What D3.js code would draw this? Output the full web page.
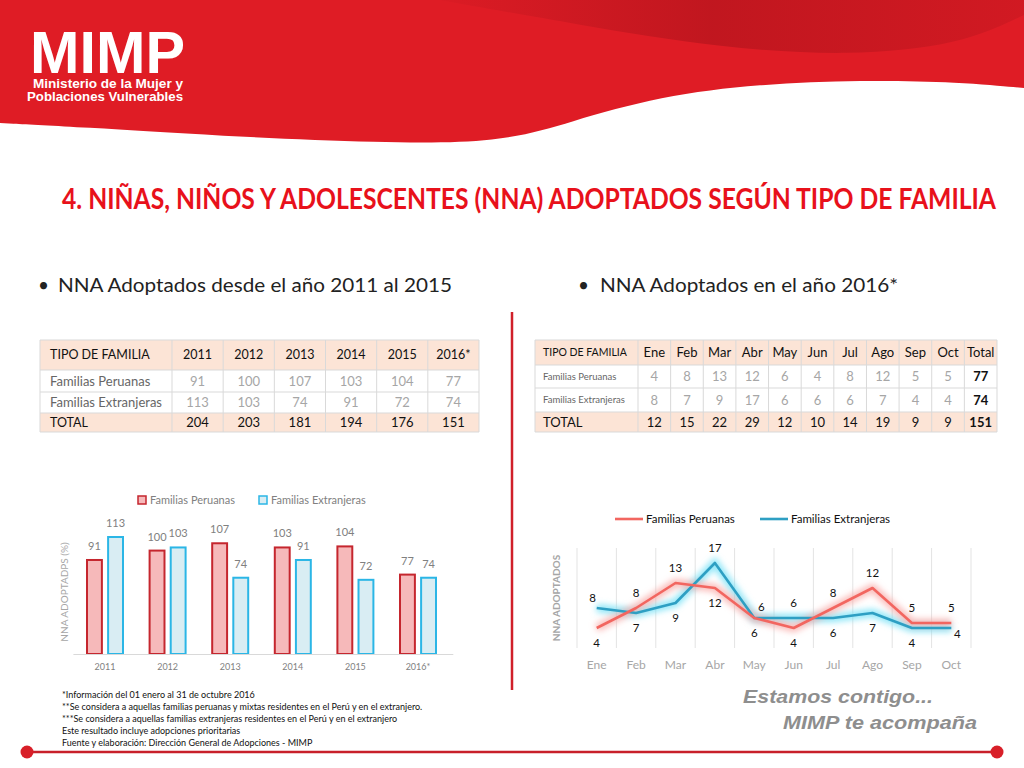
<!DOCTYPE html>
<html>
<head>
<meta charset="utf-8">
<script src="https://cdn.jsdelivr.net/npm/d3@7"></script>
<style>
  body { margin: 0; background: #fff; }
  svg { display: block; font-family: Lato, "Open Sans", sans-serif; }
</style>
</head>
<body>
<svg id="slide" width="1024" height="768"></svg>
<script>
const years = ['2011', '2012', '2013', '2014', '2015', '2016*'];
const peruanasAnual = [91, 100, 107, 103, 104, 77];
const extranjerasAnual = [113, 103, 74, 91, 72, 74];
const totalAnual = [204, 203, 181, 194, 176, 151];

const meses = ['Ene', 'Feb', 'Mar', 'Abr', 'May', 'Jun', 'Jul', 'Ago', 'Sep', 'Oct'];
const peruanasMes = [4, 8, 13, 12, 6, 4, 8, 12, 5, 5];
const extranjerasMes = [8, 7, 9, 17, 6, 6, 6, 7, 4, 4];
const totalMes = [12, 15, 22, 29, 12, 10, 14, 19, 9, 9];
const totalesMes = [77, 74, 151];

// donde va cada etiqueta de la linea (como en excel)
const posPer = ['below', 'above', 'above', 'below', 'below', 'below', 'above', 'above', 'above', 'above'];
const posExt = ['aboveLeft', 'below', 'below', 'above', 'aboveRight', 'above', 'below', 'below', 'below', 'right'];

const series = ['Familias Peruanas', 'Familias Extranjeras'];

const svg = d3.select('#slide');
const defs = svg.append('defs');

// ---------- cabecera roja ----------
const bottomEdge = [[1024, 88], [960, 82], [860, 80], [760, 84], [660, 96], [570, 122], [500, 143], [380, 143], [220, 136], [80, 127], [0, 123]];
const edgePath = d3.line().curve(d3.curveBasis)(bottomEdge);
svg.append('path')
  .attr('d', 'M0,0L1024,0L' + edgePath.slice(1) + 'Z')
  .attr('fill', '#df1c25');

const grad = defs.append('linearGradient').attr('id', 'dark').attr('x1', 0).attr('x2', 1);
grad.append('stop').attr('offset', '0%').attr('stop-color', '#a8121a').attr('stop-opacity', 0);
grad.append('stop').attr('offset', '50%').attr('stop-color', '#a8121a').attr('stop-opacity', 0.55);
grad.append('stop').attr('offset', '100%').attr('stop-color', '#a8121a').attr('stop-opacity', 0.25);
const band = [[1024, 15], [960, 45], [850, 56], [720, 48], [580, 25], [440, 0]];
svg.append('path')
  .attr('d', 'M400,0L1024,0L' + d3.line().curve(d3.curveBasis)(band).slice(1) + 'Z')
  .attr('fill', 'url(#dark)');

const logo = svg.append('g').attr('fill', '#fff')
  .style('font-family', '"Liberation Sans Narrow", "Liberation Sans", sans-serif')
  .style('font-weight', 'bold');
logo.append('text').attr('x', 30).attr('y', 73).attr('font-size', 60)
  .attr('textLength', 155).attr('lengthAdjust', 'spacingAndGlyphs').text('MIMP');
logo.append('text').attr('x', 33).attr('y', 88).attr('font-size', 13.5)
  .attr('textLength', 150).attr('lengthAdjust', 'spacingAndGlyphs').text('Ministerio de la Mujer y');
logo.append('text').attr('x', 27).attr('y', 101).attr('font-size', 13.5)
  .attr('textLength', 156).attr('lengthAdjust', 'spacingAndGlyphs').text('Poblaciones Vulnerables');

// ---------- titulo ----------
svg.append('text').attr('transform', 'translate(62,209) scale(1,1.12)')
  .attr('font-size', 25).attr('font-weight', 'bold').attr('fill', '#e8111b')
  .attr('textLength', 934).attr('lengthAdjust', 'spacingAndGlyphs')
  .text('4. NIÑAS, NIÑOS Y ADOLESCENTES (NNA) ADOPTADOS SEGÚN TIPO DE FAMILIA');

function bullet(x, tx, txt, len) {
  svg.append('text').attr('x', x).attr('y', 292).attr('font-size', 19).attr('fill', '#222').text('•');
  svg.append('text').attr('x', tx).attr('y', 292).attr('font-size', 19.5).attr('fill', '#222')
    .attr('textLength', len).attr('lengthAdjust', 'spacingAndGlyphs').text(txt);
}
bullet(38, 58, 'NNA Adoptados desde el año 2011 al 2015', 394);
bullet(578, 600, 'NNA Adoptados en el año 2016*', 298);

// separador vertical
svg.append('line').attr('x1', 512).attr('x2', 512).attr('y1', 312).attr('y2', 690)
  .attr('stroke', '#d0202a').attr('stroke-width', 2.5);

// ---------- tablas ----------
const peach = '#fce4d6';
function table(opt) {
  const g = svg.append('g');
  const xc = d3.scaleBand().domain(opt.cols).range([opt.x1, opt.x2]);
  const rowsY = opt.rows;
  [[0, peach], [1, '#fff'], [2, '#fff'], [3, peach]].forEach(([i, c]) => {
    g.append('rect').attr('x', opt.x0).attr('y', rowsY[i]).attr('width', opt.x2 - opt.x0)
      .attr('height', rowsY[i + 1] - rowsY[i]).attr('fill', c);
  });
  g.selectAll('.h').data(rowsY).join('line')
    .attr('x1', opt.x0).attr('x2', opt.x2).attr('y1', d => d).attr('y2', d => d)
    .attr('stroke', '#d9d9d9').attr('stroke-width', 1);
  g.selectAll('.v').data([opt.x0, ...opt.cols.map(c => xc(c)), opt.x2]).join('line')
    .attr('x1', d => d).attr('x2', d => d).attr('y1', rowsY[0]).attr('y2', rowsY[4])
    .attr('stroke', '#d9d9d9').attr('stroke-width', 1);
  const mid = i => (rowsY[i] + rowsY[i + 1]) / 2;
  g.append('text').attr('x', opt.x0 + opt.pad).attr('y', mid(0)).attr('dy', '0.35em')
    .attr('font-size', opt.headLabelSize).attr('fill', '#111').text('TIPO DE FAMILIA');
  g.selectAll('.ch').data(opt.cols).join('text')
    .attr('x', d => xc(d) + xc.bandwidth() / 2).attr('y', mid(0)).attr('dy', '0.35em')
    .attr('text-anchor', 'middle').attr('font-size', opt.headSize).attr('fill', '#111').text(d => d);
  opt.data.forEach((vals, r) => {
    const row = r + 1;
    const isTotal = row === 3;
    g.append('text').attr('x', opt.x0 + opt.pad).attr('y', mid(row)).attr('dy', '0.35em')
      .attr('font-size', isTotal ? opt.totalSize : opt.labelSize)
      .attr('fill', isTotal ? '#111' : '#666').text(opt.labels[r]);
    g.selectAll('.c' + r).data(vals).join('text')
      .attr('x', (d, i) => xc(opt.cols[i]) + xc.bandwidth() / 2).attr('y', mid(row)).attr('dy', '0.35em')
      .attr('text-anchor', 'middle').attr('font-size', opt.valSize)
      .attr('font-weight', (d, i) => (opt.boldLast && i === vals.length - 1) ? 'bold' : 'normal')
      .attr('fill', (d, i) => (isTotal || (opt.boldLast && i === vals.length - 1)) ? '#111' : '#a6a6a6')
      .text(d => d);
  });
}

table({
  x0: 40, x1: 172, x2: 479, rows: [340, 370, 392, 413, 432],
  cols: years, pad: 10, headLabelSize: 12.5, headSize: 12.5, labelSize: 13, totalSize: 12.5, valSize: 13,
  labels: ['Familias Peruanas', 'Familias Extranjeras', 'TOTAL'],
  data: [peruanasAnual, extranjerasAnual, totalAnual], boldLast: false
});

table({
  x0: 535, x1: 638, x2: 997, rows: [340, 365, 388, 412, 432],
  cols: [...meses, 'Total'], pad: 8, headLabelSize: 10.5, headSize: 13, labelSize: 9.5, totalSize: 13, valSize: 13,
  labels: ['Familias Peruanas', 'Familias Extranjeras', 'TOTAL'],
  data: [[...peruanasMes, totalesMes[0]], [...extranjerasMes, totalesMes[1]], [...totalMes, totalesMes[2]]],
  boldLast: true
});

// ---------- barras anuales ----------
const barCol = {
  'Familias Peruanas': { fill: '#f6b9ba', stroke: '#c5262e' },
  'Familias Extranjeras': { fill: '#d9edf3', stroke: '#2bb6e6' }
};
const x0 = d3.scaleBand().domain(years).range([73.7, 449.3]);
const x1 = d3.scaleBand().domain(series).range([x0.bandwidth() / 2 - 19, x0.bandwidth() / 2 + 19]).paddingInner(0.2);
const yb = d3.scaleLinear().domain([0, 120]).range([654, 528.7]);

const barData = years.map((yr, i) => ({ yr, vals: [peruanasAnual[i], extranjerasAnual[i]] }));
const bars = svg.append('g');
const grp = bars.selectAll('g').data(barData).join('g').attr('transform', d => `translate(${x0(d.yr)},0)`);
grp.selectAll('rect').data(d => series.map((s, k) => ({ s, v: d.vals[k] }))).join('rect')
  .attr('x', d => x1(d.s) + 1).attr('width', x1.bandwidth() - 2)
  .attr('y', d => yb(d.v) + 1).attr('height', d => yb(0) - yb(d.v) - 1)
  .attr('fill', d => barCol[d.s].fill).attr('stroke', d => barCol[d.s].stroke).attr('stroke-width', 2);
grp.selectAll('text').data(d => series.map((s, k) => ({ s, v: d.vals[k] }))).join('text')
  .attr('x', d => x1(d.s) + x1.bandwidth() / 2).attr('y', d => yb(d.v) - 9)
  .attr('text-anchor', 'middle').attr('font-size', 11).attr('fill', '#808080').text(d => d.v);

const xAxisB = svg.append('g').attr('transform', `translate(0,${yb(0)})`)
  .call(d3.axisBottom(x0).tickSize(0).tickPadding(10));
xAxisB.select('.domain').attr('stroke', '#d9d9d9').attr('d', 'M-0.3,0.5H379.6').attr('transform', 'translate(73.7,0)');
xAxisB.selectAll('text').attr('font-size', 9).attr('fill', '#7f7f7f').style('font-family', 'Lato, sans-serif');

svg.append('text').attr('transform', 'translate(68,592) rotate(-90)')
  .attr('text-anchor', 'middle').attr('font-size', 10).attr('fill', '#a6a6a6').text('NNA ADOPTADPS (%)');

const legB = svg.append('g').selectAll('g').data(series).join('g')
  .attr('transform', (d, i) => `translate(${[138, 259][i]},500)`);
legB.append('rect').attr('x', 0).attr('y', -4).attr('width', 8).attr('height', 8)
  .attr('fill', d => barCol[d].fill).attr('stroke', d => barCol[d].stroke).attr('stroke-width', 1.5);
legB.append('text').attr('x', 12).attr('dy', '0.35em').attr('font-size', 11).attr('fill', '#808080').text(d => d);

// ---------- lineas mensuales ----------
const glow = defs.append('filter').attr('id', 'glow').attr('x', '-10%').attr('y', '-30%').attr('width', '120%').attr('height', '160%');
glow.append('feGaussianBlur').attr('stdDeviation', 3);

const lineCol = {
  'Familias Peruanas': { line: '#f26660', glow: '#f9a9a6' },
  'Familias Extranjeras': { line: '#2e9fc3', glow: '#6fe0f6' }
};
const xm = d3.scaleBand().domain(meses).range([577, 971]);
const cx = m => xm(m) + xm.bandwidth() / 2;
const ym = d3.scaleLinear().domain([0, 20]).range([648, 548]);

const plot = svg.append('g');
plot.selectAll('.grid').data([...meses.map(m => xm(m)), 971]).join('line')
  .attr('x1', d => d).attr('x2', d => d).attr('y1', 548).attr('y2', 648)
  .attr('stroke', '#e3e3e3').attr('stroke-width', 1);

const lineGen = d3.line().x((d, i) => cx(meses[i])).y(d => ym(d));
const lineSeries = [
  { s: series[1], vals: extranjerasMes, pos: posExt },
  { s: series[0], vals: peruanasMes, pos: posPer }
];
lineSeries.forEach(ls => {
  plot.append('path').attr('d', lineGen(ls.vals)).attr('fill', 'none')
    .attr('stroke', lineCol[ls.s].glow).attr('stroke-width', 8).attr('stroke-opacity', 0.8)
    .attr('filter', 'url(#glow)');
});
lineSeries.forEach(ls => {
  plot.append('path').attr('d', lineGen(ls.vals)).attr('fill', 'none')
    .attr('stroke', lineCol[ls.s].line).attr('stroke-width', 2.6).attr('stroke-linejoin', 'round');
});
const offX = { right: 6, aboveLeft: -4, aboveRight: 7 };
const offY = { above: -15, below: 15, right: 6, aboveLeft: -10, aboveRight: -11 };
lineSeries.forEach(ls => {
  plot.selectAll(null).data(ls.vals).join('text')
    .attr('x', (d, i) => cx(meses[i]) + (offX[ls.pos[i]] || 0))
    .attr('y', (d, i) => ym(d) + offY[ls.pos[i]])
    .attr('dy', '0.35em')
    .attr('text-anchor', 'middle').attr('font-size', 11.5).attr('fill', '#111').text(d => d);
});

const xAxisM = svg.append('g').attr('transform', 'translate(0,648)')
  .call(d3.axisBottom(xm).tickSize(0).tickPadding(12));
xAxisM.select('.domain').remove();
xAxisM.selectAll('text').attr('font-size', 12).attr('fill', '#a6a6a6').style('font-family', 'Lato, sans-serif');

svg.append('text').attr('transform', 'translate(560,598) rotate(-90)')
  .attr('text-anchor', 'middle').attr('font-size', 10).attr('font-weight', 'bold')
  .attr('fill', '#a6a6a6').text('NNA ADOPTADOS');

const legM = svg.append('g').selectAll('g').data(series).join('g')
  .attr('transform', (d, i) => `translate(${[615, 760][i]},519)`);
legM.append('line').attr('x1', 0).attr('x2', 28)
  .attr('stroke', d => lineCol[d].line).attr('stroke-width', 2.6);
legM.append('text').attr('x', 31).attr('dy', '0.35em').attr('font-size', 11.5).attr('fill', '#111').text(d => d);

// ---------- notas ----------
const notas = [
  '*Información del 01 enero al 31 de octubre 2016',
  '**Se considera a aquellas familias peruanas y mixtas residentes en el Perú y en el extranjero.',
  '***Se considera a aquellas familias extranjeras residentes en el Perú y en el extranjero',
  'Este resultado incluye adopciones prioritarias',
  'Fuente y elaboración: Dirección General de Adopciones - MIMP'
];
svg.append('g').selectAll('text').data(notas).join('text')
  .attr('x', 62).attr('y', (d, i) => 698 + i * 12).attr('font-size', 9).attr('fill', '#111').text(d => d);

// ---------- lema y linea inferior ----------
const lema = svg.append('g').attr('fill', '#8e8e8e')
  .style('font-family', '"Liberation Sans", Arial, sans-serif')
  .attr('font-weight', 'bold').attr('font-style', 'italic');
lema.append('text').attr('x', 743).attr('y', 703).attr('font-size', 19)
  .attr('textLength', 190).attr('lengthAdjust', 'spacingAndGlyphs').text('Estamos contigo...');
lema.append('text').attr('x', 783).attr('y', 729).attr('font-size', 19)
  .attr('textLength', 194).attr('lengthAdjust', 'spacingAndGlyphs').text('MIMP te acompaña');

svg.append('line').attr('x1', 27).attr('x2', 997).attr('y1', 752).attr('y2', 752)
  .attr('stroke', '#c8202a').attr('stroke-width', 2.5);
svg.selectAll('.dot').data([27, 997]).join('circle')
  .attr('cx', d => d).attr('cy', 752).attr('r', 6.5).attr('fill', '#d81f28');
</script>
</body>
</html>
